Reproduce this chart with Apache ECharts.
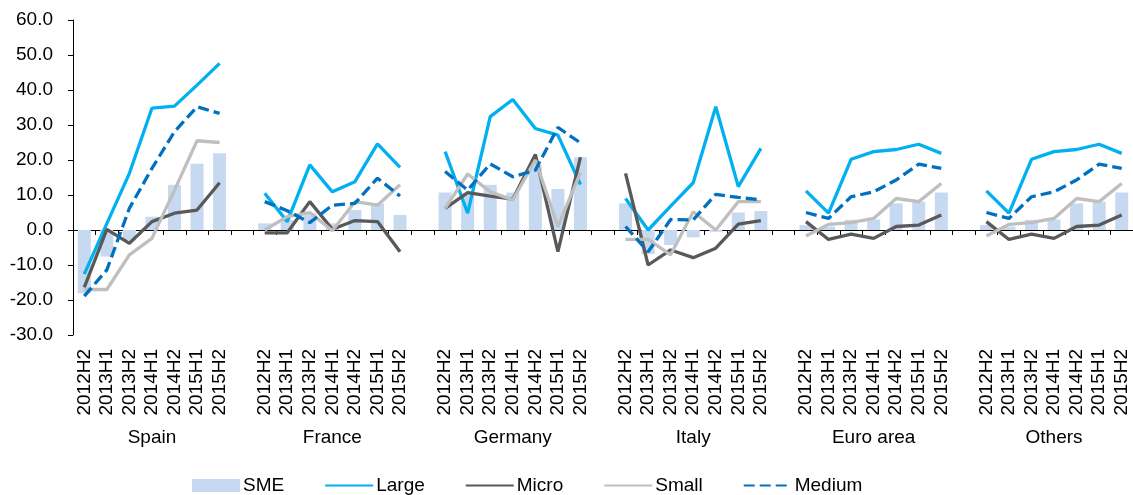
<!DOCTYPE html>
<html><head><meta charset="utf-8">
<script src="https://cdn.jsdelivr.net/npm/echarts@6/dist/echarts.min.js"></script>
<style>html,body{margin:0;padding:0;background:#fff}#c{width:1133px;height:495px}</style>
</head><body><div id="c"></div>
<script>
const countries = ['Spain','France','Germany','Italy','Euro area','Others'];
const periods = ['2012H2','2013H1','2013H2','2014H1','2014H2','2015H1','2015H2'];
const yTicks = [-30, -20, -10, 0, 10, 20, 30, 40, 50, 60];

const smeValues = [
  [-18.1, -7.6, -3.0, 3.8, 12.9, 18.9, 21.9],
  [1.9, 2.9, 4.8, 1.9, 5.7, 7.6, 4.3],
  [10.7, 10.5, 12.9, 10.7, 18.6, 11.7, 20.8],
  [7.6, -6.9, -4.3, -2.1, -0.5, 5.0, 5.4],
  [1.4, 1.0, 2.9, 3.0, 7.6, 8.1, 10.7],
  [1.4, 1.0, 2.9, 3.0, 7.6, 8.1, 10.7]
];
const largeValues = [
  [-12.6, 1.8, 16.2, 34.8, 35.4, 41.4, 47.6],
  [10.5, 2.4, 18.6, 10.9, 13.8, 24.6, 17.9],
  [22.4, 4.8, 32.4, 37.3, 29.0, 27.1, 13.0],
  [9.0, 0.0, 6.8, 13.5, 35.2, 12.4, 23.3],
  [11.2, 4.8, 20.2, 22.4, 23.0, 24.5, 21.9],
  [11.2, 4.8, 20.2, 22.4, 23.0, 24.5, 21.9]
];
const microValues = [
  [-16.4, 0.2, -3.8, 2.4, 4.8, 5.7, 13.5],
  [-0.8, -0.8, 8.1, 0.2, 2.7, 2.4, -6.2],
  [6.2, 10.7, 9.7, 8.8, 21.6, -6.2, 20.8],
  [16.2, -10.0, -5.7, -7.9, -5.2, 1.7, 2.7],
  [2.4, -2.7, -1.2, -2.4, 1.0, 1.4, 4.3],
  [2.4, -2.7, -1.2, -2.4, 1.0, 1.4, 4.3]
];
const smallValues = [
  [-17.0, -17.0, -7.1, -2.4, 11.4, 25.5, 25.0],
  [0.0, 3.8, 5.0, -0.2, 8.1, 7.1, 12.9],
  [6.2, 16.0, 10.9, 8.6, 20.0, 1.0, 16.4],
  [-2.7, -2.7, -7.1, 5.2, 0.0, 8.1, 8.1],
  [-1.7, 1.6, 2.1, 3.3, 9.0, 8.1, 13.3],
  [-1.7, 1.6, 2.1, 3.3, 9.0, 8.1, 13.3]
];
const mediumValues = [
  [-18.9, -11.4, 6.2, 17.6, 28.1, 35.2, 33.3],
  [8.1, 5.5, 2.1, 7.1, 7.6, 14.8, 9.7],
  [16.7, 11.4, 18.9, 15.2, 17.1, 29.3, 24.9],
  [1.0, -6.2, 3.0, 2.9, 10.2, 9.3, 8.6],
  [5.0, 3.3, 9.5, 10.9, 14.3, 18.8, 17.6],
  [5.0, 3.3, 9.5, 10.9, 14.3, 18.8, 17.6]
];

// Build category list with one empty gap category between groups
const cats = [];
const groupCats = [];
countries.forEach((c, ci) => {
  periods.forEach((p, pi) => {
    cats.push(c + '|' + p);
    groupCats.push(pi === 3 ? c : ('g' + ci + '_' + pi));
  });
  if (ci < countries.length - 1) { cats.push('gap|' + ci); groupCats.push('gap_' + ci); }
});
function flat(arr) {
  const out = [];
  arr.forEach((g, gi) => {
    g.forEach(v => out.push(v));
    if (gi < arr.length - 1) out.push(null);
  });
  return out;
}

const FONT = 'Arial, "Liberation Sans", sans-serif';
const hideSym = {opacity: 0};
const LW = 3.3;
const chart = echarts.init(document.getElementById('c'), null, {renderer: 'canvas'});
chart.setOption({
  animation: false,
  textStyle: {fontFamily: FONT},
  grid: {left: 73, right: -5, top: 20, height: 315, containLabel: false},
  legend: {
    left: 192, top: 476, padding: 0, itemWidth: 48, itemHeight: 13, itemGap: 40,
    textStyle: {fontSize: 19, color: '#000', fontFamily: FONT, padding: [0, 0, 0, -2]},
    data: [
      {name: 'SME', icon: 'rect'},
      {name: 'Large', itemStyle: hideSym},
      {name: 'Micro', itemStyle: hideSym},
      {name: 'Small', itemStyle: hideSym},
      {name: 'Medium', itemStyle: hideSym}
    ]
  },
  xAxis: [
    {
      type: 'category', data: cats, position: 'bottom',
      axisLine: {onZero: true, lineStyle: {color: '#000', width: 1}},
      axisTick: {show: true, interval: 0, length: 5, lineStyle: {color: '#000'}},
      axisLabel: {show: false}, splitLine: {show: false}
    },
    {
      type: 'category', data: cats, position: 'bottom',
      axisLine: {show: false, onZero: false}, axisTick: {show: false},
      axisLabel: {
        interval: 0, rotate: 90, margin: 14, fontSize: 19, color: '#000', fontFamily: FONT,
        formatter: v => v.startsWith('gap') ? '' : v.split('|')[1]
      }
    },
    {
      type: 'category', data: groupCats, position: 'bottom',
      axisLine: {show: false, onZero: false}, axisTick: {show: false},
      axisLabel: {
        interval: 0, margin: 93, fontSize: 19, color: '#000', fontFamily: FONT,
        formatter: v => countries.indexOf(v) >= 0 ? v : ''
      }
    }
  ],
  yAxis: {
    type: 'value', min: yTicks[0], max: yTicks[yTicks.length - 1], interval: 10,
    axisLine: {show: true, lineStyle: {color: '#000', width: 1}},
    axisTick: {show: true, length: 5, lineStyle: {color: '#000'}},
    splitLine: {show: false},
    axisLabel: {fontSize: 19, color: '#000', margin: 20, fontFamily: FONT, formatter: v => v.toFixed(1)}
  },
  series: [
    {name: 'SME', type: 'bar', xAxisIndex: 0, data: flat(smeValues), barWidth: 13,
     itemStyle: {color: '#c6d9f0'}},
    {name: 'Large', type: 'line', xAxisIndex: 0, data: flat(largeValues), symbol: 'none',
     connectNulls: false, lineStyle: {color: '#00b0f0', width: LW}, itemStyle: {color: '#00b0f0'}},
    {name: 'Micro', type: 'line', xAxisIndex: 0, data: flat(microValues), symbol: 'none',
     connectNulls: false, lineStyle: {color: '#595959', width: LW}, itemStyle: {color: '#595959'}},
    {name: 'Small', type: 'line', xAxisIndex: 0, data: flat(smallValues), symbol: 'none',
     connectNulls: false, lineStyle: {color: '#bfbfbf', width: LW}, itemStyle: {color: '#bfbfbf'}},
    {name: 'Medium', type: 'line', xAxisIndex: 0, data: flat(mediumValues), symbol: 'none',
     connectNulls: false, lineStyle: {color: '#0070c0', width: LW, type: [11, 5]}, itemStyle: {color: '#0070c0'}}
  ]
});
</script></body></html>
